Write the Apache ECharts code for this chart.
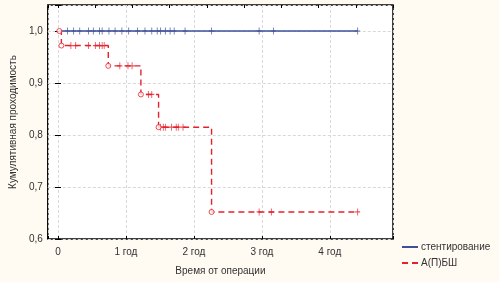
<!DOCTYPE html>
<html>
<head>
<meta charset="utf-8">
<script src="https://cdn.jsdelivr.net/npm/echarts@6/dist/echarts.min.js"></script>
<style>
  html, body { margin: 0; padding: 0; background: #fffaf2; }
  #chart { width: 499px; height: 282px; }
</style>
</head>
<body>
<div id="chart"></div>
<script>
// время в годах, выживаемость (кумулятивная проходимость)
const stentTime = [0.02, 4.41]
const stentSurv = [1.0, 1.0]
const stentCensorTime = [0.14, 0.23, 0.32, 0.45, 0.52, 0.61, 0.65, 0.75, 0.84, 0.94, 1.04, 1.17, 1.28,
  1.38, 1.46, 1.51, 1.58, 1.65, 1.71, 1.87, 2.26, 2.96, 3.17, 4.41]

const bypassTime = [0.02, 0.05, 0.74, 1.22, 1.48, 2.26, 4.41]
const bypassSurv = [1.0, 0.972, 0.933, 0.878, 0.815, 0.652, 0.652]
const bypassEventTime = [0.02, 0.05, 0.74, 1.22, 1.48, 2.26]
const bypassEventSurv = [1.0, 0.972, 0.933, 0.878, 0.815, 0.652]
const bypassCensorTime = [0.19, 0.26, 0.45, 0.55, 0.61, 0.65, 0.68, 0.91, 1.03, 1.09, 1.33, 1.38,
  1.51, 1.55, 1.58, 1.67, 1.74, 1.77, 1.84, 2.96, 3.14, 4.41]
const bypassCensorSurv = [0.972, 0.972, 0.972, 0.972, 0.972, 0.972, 0.972, 0.933, 0.933, 0.933, 0.878, 0.878,
  0.815, 0.815, 0.815, 0.815, 0.815, 0.815, 0.815, 0.652, 0.652, 0.652]

const seriesNames = ['стентирование', 'А(П)БШ']
const BLUE = '#3d4f9a'
const RED = '#e4222c'
const font = '"Liberation Sans", Arial, sans-serif'
const plus = 'path://M5,0 L5,10 M1,5 L9,5'

const zip = (xs, ys) => xs.map((x, i) => [x, ys[i]])

const chart = echarts.init(document.getElementById('chart'))

chart.setOption({
  backgroundColor: '#fffaf2',
  animation: false,
  textStyle: { fontFamily: font },
  grid: {
    left: 43, right: 106, top: 5, bottom: 43,
    show: true,
    backgroundColor: '#ffffff',
    borderColor: '#000',
    borderWidth: 1.5
  },
  legend: {
    data: seriesNames,
    orient: 'vertical',
    left: 396,
    top: 237,
    itemWidth: 16,
    itemHeight: 8,
    itemGap: 6,
    itemStyle: { color: 'transparent', borderColor: 'transparent', borderWidth: 0 },
    textStyle: { fontSize: 10, color: '#333', fontFamily: font, padding: [0, 0, 0, -2] }
  },
  xAxis: [
    {
      type: 'value',
      min: -0.15,
      max: 4.93,
      splitNumber: 5,
      name: 'Время от операции',
      nameLocation: 'middle',
      nameGap: 27,
      nameTextStyle: { fontSize: 10, color: '#333' },
      axisLine: { show: false },
      axisTick: { inside: true, length: 3, lineStyle: { color: '#000' } },
      axisLabel: {
        fontSize: 10, color: '#333', margin: 8,
        formatter: v => Math.abs(v - Math.round(v)) > 1e-6 ? '' : (v === 0 ? '0' : v + ' год')
      },
      splitLine: { show: true, lineStyle: { color: '#d8d8d8', type: [3, 2] } }
    },
    {
      // верхняя ось в днях, только засечки
      type: 'value',
      position: 'top',
      min: -0.15 * 365,
      max: 4.93 * 365,
      splitNumber: 9,
      axisLine: { show: false },
      axisTick: { inside: true, length: 3, lineStyle: { color: '#000' } },
      axisLabel: { show: false },
      splitLine: { show: false }
    }
  ],
  yAxis: [
    {
      type: 'value',
      min: 0.6,
      max: 1.05,
      interval: 0.1,
      name: 'Кумулятивная проходимость',
      nameLocation: 'middle',
      nameGap: 28,
      nameTextStyle: { fontSize: 10, color: '#333' },
      axisLine: { show: false },
      axisTick: { inside: true, length: 3, lineStyle: { color: '#000' } },
      axisLabel: {
        fontSize: 10, color: '#333', margin: 5,
        formatter: v => v > 1.01 ? '' : v.toFixed(1).replace('.', ',')
      },
      splitLine: { show: true, lineStyle: { color: '#d8d8d8', type: [3, 2] } }
    },
    {
      type: 'value',
      position: 'right',
      min: 0.6,
      max: 1.05,
      interval: 0.1,
      axisLine: { show: false },
      axisTick: { show: true, inside: true, length: 3, lineStyle: { color: '#000' } },
      axisLabel: { show: false },
      splitLine: { show: false }
    }
  ],
  series: [
    {
      name: seriesNames[0],
      type: 'line',
      step: 'end',
      symbol: 'none',
      data: zip(stentTime, stentSurv),
      itemStyle: { color: BLUE },
      lineStyle: { color: BLUE, width: 1.4 },
      z: 3
    },
    {
      name: seriesNames[1],
      type: 'line',
      step: 'end',
      symbol: 'none',
      data: zip(bypassTime, bypassSurv),
      itemStyle: { color: RED },
      lineStyle: { color: RED, width: 1.4, type: [6, 4] },
      z: 3
    },
    {
      name: 'stent-censor',
      type: 'scatter',
      symbol: plus,
      symbolSize: [5, 7],
      data: stentCensorTime.map(t => [t, 1.0]),
      itemStyle: { color: 'transparent', borderColor: BLUE, borderWidth: 1 },
      silent: true,
      z: 4
    },
    {
      name: 'bypass-censor',
      type: 'scatter',
      symbol: plus,
      symbolSize: [5, 7],
      data: zip(bypassCensorTime, bypassCensorSurv),
      itemStyle: { color: 'transparent', borderColor: RED, borderWidth: 1 },
      silent: true,
      z: 4
    },
    {
      name: 'bypass-event',
      type: 'scatter',
      symbol: 'circle',
      symbolSize: 5,
      data: zip(bypassEventTime, bypassEventSurv),
      itemStyle: { color: '#fff', borderColor: RED, borderWidth: 1 },
      silent: true,
      z: 5
    }
  ]
})
</script>
</body>
</html>
